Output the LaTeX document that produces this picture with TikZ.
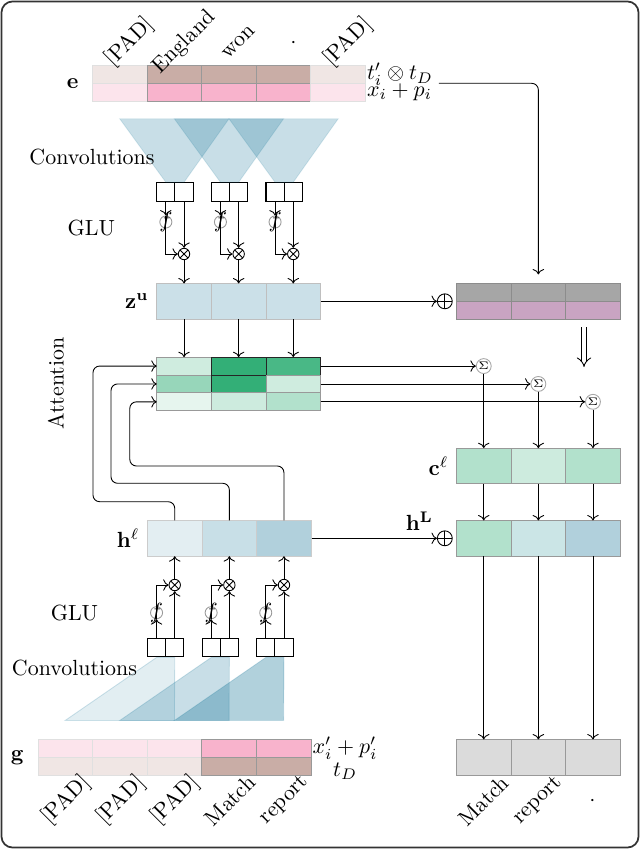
\documentclass[tikz,border=0pt]{standalone}
\usepackage{amsmath}
\usepackage{tikz}
\usetikzlibrary{matrix,positioning,calc,arrows.meta}

\definecolor{convblue}{RGB}{18,114,150}
\definecolor{attgreen}{RGB}{28,166,104}
\definecolor{padtop}{RGB}{240,230,228}
\definecolor{wordtop}{RGB}{201,173,166}
\definecolor{padbot}{RGB}{252,228,236}
\definecolor{wordbot}{RGB}{248,179,204}
\definecolor{mauve}{RGB}{201,164,194}
\definecolor{mixcell}{RGB}{203,229,230}

\tikzset{
  blockcell/.style={draw=black!40, minimum width=24.9pt, minimum height=8.15pt, inner sep=0pt},
  tallcell/.style={blockcell, minimum height=16.3pt},
  padcell/.style={draw=black!12},
  darkcell/.style={draw=black!85},
  cellrow/.style={matrix of nodes, nodes in empty cells, anchor=north west, inner sep=0pt, outer sep=0pt,
    column sep=-\pgflinewidth, row sep=-\pgflinewidth},
  glubox/.style={draw, line width=0.5pt, minimum width=8.3pt, minimum height=8.6pt, inner sep=0pt},
  fcirc/.style={circle, draw=black!40, minimum size=5.5pt, inner sep=0pt, label={center:$f$}},
  multnode/.style={circle, draw, minimum size=5.2pt, inner sep=0pt,
    path picture={\draw (path picture bounding box.north west) -- (path picture bounding box.south east)
      (path picture bounding box.north east) -- (path picture bounding box.south west);}},
  sumnode/.style={circle, draw, minimum size=6.8pt, inner sep=0pt,
    path picture={\draw (path picture bounding box.north) -- (path picture bounding box.south)
      (path picture bounding box.east) -- (path picture bounding box.west);}},
  signode/.style={circle, draw=black!35, minimum size=6.8pt, inner sep=0pt, font=\tiny},
  convtri/.style={fill=convblue, fill opacity=0.23, draw=convblue, draw opacity=0.15},
  toklabel/.style={rotate=45, inner sep=0pt},
}

\begin{document}
\begin{tikzpicture}[x=0.456pt, y=-0.456pt]
  \useasboundingbox (0,0) rectangle (640,849);
  \draw[line width=0.8pt, black!80, rounded corners=5pt] (1.5,1.5) rectangle (638.5,847.5);

  \matrix (e) [cellrow, nodes={blockcell}] at (92,65) {
    |[fill=padtop,padcell]| & |[fill=wordtop]| & |[fill=wordtop]| & |[fill=wordtop]| & |[fill=padtop,padcell]| \\
    |[fill=padbot,padcell]| & |[fill=wordbot]| & |[fill=wordbot]| & |[fill=wordbot]| & |[fill=padbot,padcell]| \\
  };
  \matrix (g) [cellrow, nodes={blockcell}] at (37.5,739) {
    |[fill=padbot,padcell]| & |[fill=padbot,padcell]| & |[fill=padbot,padcell]| & |[fill=wordbot]| & |[fill=wordbot]| \\
    |[fill=padtop,padcell]| & |[fill=padtop,padcell]| & |[fill=padtop,padcell]| & |[fill=wordtop]| & |[fill=wordtop]| \\
  };
  \matrix (zu) [cellrow, nodes={tallcell, fill=convblue!22, draw=black!25}] at (156.3,283) { & & \\ };
  \matrix (s) [cellrow, nodes={blockcell, draw=black!45}, row 1/.style={nodes={fill=black!35}},
    row 2/.style={nodes={fill=mauve}}] at (456,283) { & & \\ & & \\ };
  \matrix (att) [cellrow, nodes={blockcell}] at (156.3,356.7) {
    |[fill=attgreen!21]| & |[fill=attgreen!90,darkcell]| & |[fill=attgreen!80,darkcell]| \\
    |[fill=attgreen!46]| & |[fill=attgreen!90,darkcell]| & |[fill=attgreen!21]| \\
    |[fill=attgreen!11]| & |[fill=attgreen!22]| & |[fill=attgreen!34]| \\
  };
  \matrix (c) [cellrow, nodes={tallcell}] at (456,447.7) {
    |[fill=attgreen!34]| & |[fill=attgreen!22]| & |[fill=attgreen!34]| \\
  };
  \matrix (hl) [cellrow, nodes={tallcell, draw=black!20}] at (147,520) {
    |[fill=convblue!12]| & |[fill=convblue!23]| & |[fill=convblue!33]| \\
  };
  \matrix (hL) [cellrow, nodes={tallcell}] at (456,520) {
    |[fill=attgreen!34]| & |[fill=mixcell]| & |[fill=convblue!33]| \\
  };
  \matrix (out) [cellrow, nodes={tallcell, fill=black!14}] at (456,739) { & & \\ };

  \node[left=2.7pt of e] (e-lab) {$\mathbf{e}$};
  \node[left=2.7pt of g] (g-lab) {$\mathbf{g}$};
  \node[left=0pt of zu] (zu-lab) {$\mathbf{z}^{\mathbf{u}}$};
  \node[left=0pt of hl] (hl-lab) {$\mathbf{h}^{\ell}$};
  \node[left=0pt of c] (c-lab) {$\mathbf{c}^{\ell}$};
  \node[anchor=west, inner sep=0.5pt] (e-t) at (e-1-5.east) {$t'_i\otimes t_D$};
  \node[anchor=west, inner sep=0.5pt] (e-x) at (e-2-5.east) {$x_i+p_i$};
  \node[anchor=west, inner sep=0.5pt] (g-x) at (g-1-5.east) {$x'_i+p'_i$};
  \node[below=0pt of g-x, inner sep=0.5pt] (g-t) {$t_D$};

  \foreach \w [count=\i] in {[PAD],England,won,{.},[PAD]}
    \node[toklabel] (e-w\i) at ($(e-1-\i.north)+(10,-23)$) {\w};
  \foreach \w [count=\i] in {[PAD],[PAD],[PAD],Match,report}
    \node[toklabel] (g-w\i) at ($(g-2-\i.south)+(1,25)$) {\w};
  \foreach \w [count=\i] in {Match,report,{.}}
    \node[toklabel] (o-w\i) at ($(out-1-\i.south)+(0,25.5)$) {\w};

  \foreach \i in {1,2,3} {
    \node[glubox] (gb\i) at (zu-1-\i.center |- 0,192.2) {};
    \node[glubox, left=-0.5pt of gb\i] (ga\i) {};
    \node[fcirc] (fa\i) at (ga\i.center |- 0,222) {};
    \node[multnode] (ma\i) at (gb\i.center |- 0,254) {};
    \node[glubox] (vb\i) at (hl-1-\i.center |- 0,647.5) {};
    \node[glubox, left=-0.5pt of vb\i] (va\i) {};
    \node[fcirc] (fb\i) at (va\i.center |- 0,612.7) {};
    \node[multnode] (mb\i) at (vb\i.center |- 0,585) {};
    \node[signode] (sig\i) at (c-1-\i.center |- att-\i-3.east) {$\Sigma$};
  }

  \foreach \i/\j in {1/3,2/4,3/5}
    \path[convtri] ($(e-2-\i.south)+(0,17.6)$) -- ($(e-2-\j.south)+(0,17.6)$) -- (gb\i.north) -- (ga\i.north) -- cycle;
  \foreach \i/\j/\o in {1/3/0.12,2/4/0.23,3/5/0.33}
    \path[fill=convblue, fill opacity=\o, draw=convblue, draw opacity=0.2]
      ($(g-1-\i.north)+(0,-19)$) -- ($(g-1-\j.north)+(0,-19)$) -- (vb\i.south) -- (va\i.south) -- cycle;

  \node (conv-top) at (92,156.7) {Convolutions};
  \node (conv-bot) at (74.5,667.7) {Convolutions};
  \node (glu-top) at (91.4,228) {GLU};
  \node (glu-bot) at (74.5,613) {GLU};
  \node[rotate=90] (att-lab) at (56,383.5) {Attention};

  \foreach \i in {1,2,3} {
    \draw[->] (ga\i.south) -- (fa\i.north);
    \draw[->] (fa\i.north) |- (ma\i.west);
    \draw[->] (gb\i.south) -- (ma\i.north);
    \draw[->] (ma\i.south) -- (zu-1-\i.north);
    \draw[->] (va\i.north) -- (fb\i.south);
    \draw[->] (fb\i.south) |- (mb\i.west);
    \draw[->] (vb\i.north) -- (mb\i.south);
    \draw[->] (mb\i.north) -- (hl-1-\i.south);
    \draw[->] (zu-1-\i.south) -- (att-1-\i.north);
    \draw[->] (att-\i-3.east) -- (sig\i.west);
    \draw[->] (sig\i.south) -- (c-1-\i.north);
    \draw[->] (c-1-\i.south) -- (hL-1-\i.north);
    \draw[->] (hL-1-\i.south) -- (out-1-\i.north);
  }

  \node[sumnode, left=1.5pt of s] (sum1) {};
  \node[sumnode, left=1.5pt of hL] (sum2) {};
  \draw[->] (zu) -- (sum1);
  \draw[->] (hl) -- node[pos=.86, above] {$\mathbf{h}^{\mathbf{L}}$} (sum2);
  \draw[->, rounded corners=3pt] ($(e.east)+(73,0)$) -| ($(s-1-2.north)+(0,-9)$);

  \coordinate (imp-a) at (584,327);
  \coordinate (imp-b) at (584,367);
  \draw[double, double distance=1.9pt, -{Implies}] (imp-a) -- (imp-b);

  \draw[->, rounded corners=3pt] (hl-1-1.north) |- (93,501.7) |- (att-1-1.west);
  \draw[->, rounded corners=3pt] (hl-1-2.north) |- (111,483.3) |- (att-2-1.west);
  \draw[->, rounded corners=3pt] (hl-1-3.north) |- (129.8,466) |- (att-3-1.west);
\end{tikzpicture}
\end{document}
